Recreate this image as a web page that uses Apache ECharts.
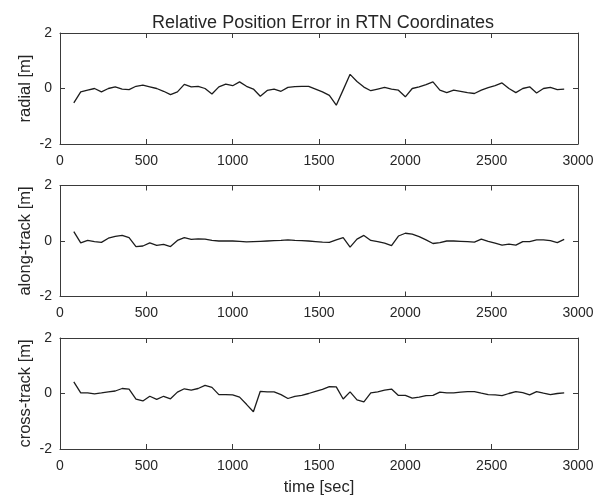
<!DOCTYPE html>
<html>
<head>
<meta charset="utf-8">
<script src="https://cdn.jsdelivr.net/npm/echarts@6/dist/echarts.min.js"></script>
<style>html,body{margin:0;padding:0;background:#fff}#c{width:607px;height:502px}</style>
</head>
<body>
<div id="c"></div>
<script>
const timeSec = [80,120,160,200,240,280,320,360,400,440,480,520,560,600,640,680,720,760,800,840,880,920,960,1000,1040,1080,1120,1160,1200,1240,1280,1320,1360,1400,1440,1480,1520,1560,1600,1640,1680,1720,1760,1800,1840,1880,1920,1960,2000,2040,2080,2120,2160,2200,2240,2280,2320,2360,2400,2440,2480,2520,2560,2600,2640,2680,2720,2760,2800,2840,2880,2920];
const radial = [-0.52,-0.12,-0.06,0,-0.12,0,0.06,-0.02,-0.04,0.08,0.12,0.06,0,-0.1,-0.22,-0.12,0.15,0.06,0.08,0,-0.2,0.06,0.16,0.1,0.24,0.08,-0.02,-0.28,-0.07,-0.02,-0.1,0.04,0.07,0.08,0.08,-0.02,-0.12,-0.25,-0.6,-0.05,0.51,0.25,0.05,-0.08,-0.02,0.04,-0.02,-0.06,-0.3,0,0.06,0.14,0.24,-0.06,-0.15,-0.06,-0.1,-0.15,-0.18,-0.06,0.03,0.1,0.2,0,-0.15,0,0.06,-0.16,0,0.04,-0.04,-0.02];
const alongTrack = [0.34,-0.07,0.02,-0.02,-0.05,0.1,0.17,0.2,0.12,-0.2,-0.18,-0.07,-0.16,-0.12,-0.2,0.02,0.12,0.06,0.08,0.07,0.02,0,0,0,-0.01,-0.03,-0.02,-0.01,0,0.01,0.02,0.04,0.02,0.01,0,-0.02,-0.04,-0.05,0.04,0.12,-0.22,0.07,0.2,0.02,-0.02,-0.08,-0.17,0.18,0.28,0.25,0.16,0.04,-0.09,-0.06,0,0,-0.01,-0.02,-0.04,0.07,-0.01,-0.08,-0.15,-0.11,-0.15,-0.02,-0.02,0.04,0.04,0.01,-0.06,0.06];
const crossTrack = [0.42,0.02,0.02,-0.01,0.02,0.06,0.09,0.18,0.16,-0.2,-0.27,-0.1,-0.21,-0.1,-0.19,0.05,0.17,0.12,0.18,0.29,0.22,-0.04,-0.04,-0.05,-0.13,-0.39,-0.66,0.08,0.06,0.06,-0.04,-0.18,-0.1,-0.07,0,0.08,0.15,0.25,0.24,-0.2,0.06,-0.23,-0.3,0.02,0.06,0.12,0.16,-0.07,-0.07,-0.17,-0.13,-0.08,-0.07,0.05,0.02,0.02,0.05,0.07,0.07,0.01,-0.04,-0.05,-0.08,0,0.07,0.03,-0.05,0.07,0.01,-0.04,0,0.02];
const yLabels = ['radial [m]','along-track [m]','cross-track [m]'];
const xTicks = [0,500,1000,1500,2000,2500,3000];
const yTicks = [-2,0,2];
const chartTitle = 'Relative Position Error in RTN Coordinates';
const xLabel = 'time [sec]';

const FONT = "'Liberation Sans', Arial, sans-serif";
const AX = '#3a3a3a';
const TXT = '#262626';
const series = [radial, alongTrack, crossTrack];
const tops = [33, 185.5, 338];
const H = 111;
const fmt = v => String(v);

const grids = [], xAxes = [], yAxes = [], ser = [];
tops.forEach((t, i) => {
  grids.push({left: 60, width: 518, top: t, height: H});
  const common = {
    type: 'value', gridIndex: i, min: xTicks[0], max: xTicks[xTicks.length-1], interval: 500,
    axisLine: {show: true, onZero: false, lineStyle: {color: AX, width: 1}},
    axisTick: {show: true, inside: true, length: 5, lineStyle: {color: AX}},
    splitLine: {show: false}
  };
  xAxes.push(Object.assign({}, common, {
    position: 'bottom',
    axisLabel: {show: true, color: TXT, fontSize: 14, fontFamily: FONT, margin: 10, formatter: fmt},
    name: i === 2 ? xLabel : '', nameLocation: 'middle', nameGap: 30, nameMoveOverlap: false,
    nameTextStyle: {color: TXT, fontSize: 16.5, fontFamily: FONT}
  }));
  xAxes.push(Object.assign({}, common, {position: 'top', axisLabel: {show: false}}));
  const ycommon = {
    type: 'value', gridIndex: i, min: yTicks[0], max: yTicks[yTicks.length-1], interval: 2,
    axisLine: {show: true, onZero: false, lineStyle: {color: AX, width: 1}},
    axisTick: {show: true, inside: true, length: 5, lineStyle: {color: AX}},
    splitLine: {show: false}
  };
  yAxes.push(Object.assign({}, ycommon, {
    position: 'left',
    axisLabel: {show: true, color: TXT, fontSize: 14, fontFamily: FONT, margin: 8, formatter: fmt},
    name: yLabels[i], nameLocation: 'middle', nameGap: 26, nameRotate: 90, nameMoveOverlap: false,
    nameTextStyle: {color: TXT, fontSize: 16.5, fontFamily: FONT}
  }));
  yAxes.push(Object.assign({}, ycommon, {position: 'right', axisLabel: {show: false}}));
  ser.push({
    type: 'line', xAxisIndex: i*2, yAxisIndex: i*2,
    data: timeSec.map((x, k) => [x, series[i][k]]),
    showSymbol: false, symbol: 'none', animation: false,
    lineStyle: {color: '#1c1c1c', width: 1.3}
  });
});

const chart = echarts.init(document.getElementById('c'), null, {renderer: 'canvas'});
chart.setOption({
  animation: false,
  backgroundColor: '#fff',
  title: {text: chartTitle, left: 318, top: 9, textAlign: 'center',
    textStyle: {color: TXT, fontSize: 18, fontWeight: 'normal', fontFamily: FONT}},
  grid: grids, xAxis: xAxes, yAxis: yAxes, series: ser
});
</script>
</body>
</html>
